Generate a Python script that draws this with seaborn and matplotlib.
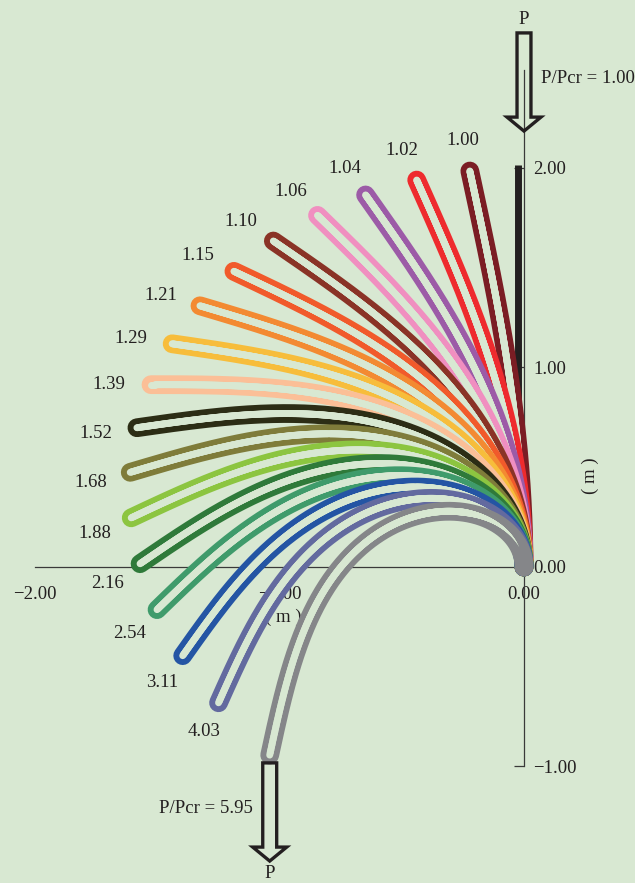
import numpy as np
import seaborn as sns
import matplotlib.pyplot as plt
from matplotlib.collections import LineCollection
from matplotlib.patches import FancyArrow
import matplotlib.transforms as mtransforms

# P/Pcr labels of the deflected shapes, and tip rotation (deg)
load_labels = ['1.00', '1.02', '1.04', '1.06', '1.10', '1.15', '1.21', '1.29', '1.39',
               '1.52', '1.68', '1.88', '2.16', '2.54', '3.11', '4.03', '5.95']
tip_angles = [10, 20, 30, 40, 50, 60, 70, 80, 90, 100, 110, 120, 130, 140, 150, 160, 170]
colors = ['#7b1d24', '#ee2b2e', '#9c5ba7', '#f08fc0', '#8a3326', '#f15a2b', '#f38a32',
          '#f7bd3b', '#fbbf97', '#2c2d15', '#7f7c3a', '#8cc540', '#2f7a3a', '#3f9b6b',
          '#2455a4', '#636a9f', '#858689']
column_length = 2.0
critical_label = '1.00'

xticks = [-2, -1, 0]
xtick_labels = ['\u22122.00', '\u22121.00', '0.00']
yticks = [-1, 0, 1, 2]
ytick_labels = ['\u22121.00', '0.00', '1.00', '2.00']

BG = '#d8e8d2'
INK = '#231f20'
FS = 13.5


def elastica(alpha_deg, L=column_length, n=700):
    # cantilever elastica, fixed at the origin, tip rotated by alpha
    k = np.sin(np.radians(alpha_deg) / 2)
    phi = np.linspace(0, np.pi / 2, n)
    root = np.sqrt(1 - (k * np.sin(phi)) ** 2)
    dphi = phi[1] - phi[0]
    F = np.concatenate([[0], np.cumsum((1 / root[1:] + 1 / root[:-1]) / 2 * dphi)])
    E = np.concatenate([[0], np.cumsum((root[1:] + root[:-1]) / 2 * dphi)])
    lam = F[-1] / L
    s = F / lam
    x = -(2 * k / lam) * (1 - np.cos(phi))
    y = 2 * E / lam - s
    return x, y, s


sns.set_theme(style='white')
plt.rcParams['font.family'] = ['Liberation Serif', 'DejaVu Serif']
plt.rcParams['axes.unicode_minus'] = True

fig = plt.figure(figsize=(6.35, 8.83), dpi=100, facecolor=BG)
ax = fig.add_axes([0, 0, 1, 1])
ax.set_facecolor(BG)

# undeflected column (P/Pcr = 1.00), drawn just left of the axis
shift = mtransforms.offset_copy(ax.transData, fig=fig, x=-6, y=0, units='dots')
ax.plot([0, 0], [0, column_length * 1.007], color=INK, lw=5, transform=shift,
        solid_capstyle='butt', zorder=2)

tips = []
for i, (lab, a, c) in enumerate(zip(load_labels, tip_angles, colors)):
    x, y, s = elastica(a)
    sns.lineplot(x=x, y=y, color=c, lw=13.5, sort=False, estimator=None, ax=ax,
                 solid_capstyle='round', zorder=3 + 2 * i)
    # hollow centre of the tube, fading out towards the fixed base
    pts = np.column_stack([x, y])
    segs = np.stack([pts[:-1], pts[1:]], axis=1)
    sm = (s[:-1] + s[1:]) / 2 / column_length
    widths = 5.0 * np.clip((sm - 0.05) / 0.15, 0, 1)
    lc = LineCollection(segs, colors=BG, linewidths=widths, capstyle='round',
                        zorder=4 + 2 * i)
    ax.add_collection(lc)
    tips.append((x[-1], y[-1]))
    if i < len(load_labels) - 1:
        ar = np.radians(a)
        ax.annotate(lab, (x[-1], y[-1]), xytext=(-np.sin(ar) * 42, np.cos(ar) * 31),
                    textcoords='offset pixels', ha='center', va='center',
                    fontsize=FS, color=INK)

ax.set_xlim(-2.143, 0.454)
ax.set_ylim(-1.584, 2.842)

# axes through the origin
for side in ['top', 'left']:
    ax.spines[side].set_visible(False)
ax.spines['bottom'].set_position(('data', 0))
ax.spines['right'].set_position(('data', 0))
ax.spines['bottom'].set_bounds(-2, 0)
ax.spines['right'].set_bounds(-1.0, 2.49)
for side in ['bottom', 'right']:
    ax.spines[side].set_color('#3a3a3a')
    ax.spines[side].set_linewidth(0.9)
ax.yaxis.set_ticks_position('right')
ax.set_xticks(xticks, xtick_labels)
ax.set_yticks(yticks, ytick_labels)
ax.tick_params(axis='x', direction='in', length=6.5, width=0.9, pad=13.5,
               labelsize=FS, colors=INK, color='#3a3a3a')
ax.tick_params(axis='y', direction='in', length=7, width=0.9, pad=6.5,
               labelsize=FS, colors=INK, color='#3a3a3a')
ax.text(-0.986, -0.25, '( m )', ha='center', va='center', fontsize=FS, color=INK)
ax.text(0.27, 0.46, '( m )', ha='center', va='center', fontsize=FS, color=INK,
        rotation=90)

# load arrows
arrow_kw = dict(width=0.057, head_width=0.139, head_length=0.07,
                length_includes_head=True, fc='none', ec=INK, lw=2.4, zorder=50)
ax.add_patch(FancyArrow(0, 2.677, 0, -0.492, **arrow_kw))
tx = tips[-1][0]
ax.add_patch(FancyArrow(tx, -0.982, 0, -0.492, **arrow_kw))
ax.text(0, 2.742, 'P', ha='center', va='center', fontsize=FS, color=INK)
ax.text(0.0695, 2.451, 'P/Pcr = ' + critical_label, ha='left', va='center',
        fontsize=FS, color=INK)
ax.text(tx, -1.535, 'P', ha='center', va='center', fontsize=FS, color=INK)
ax.text(tx - 0.07, -1.212, 'P/Pcr = ' + load_labels[-1], ha='right', va='center',
        fontsize=FS, color=INK)

fig.savefig('out.png', dpi=100, facecolor=BG)
